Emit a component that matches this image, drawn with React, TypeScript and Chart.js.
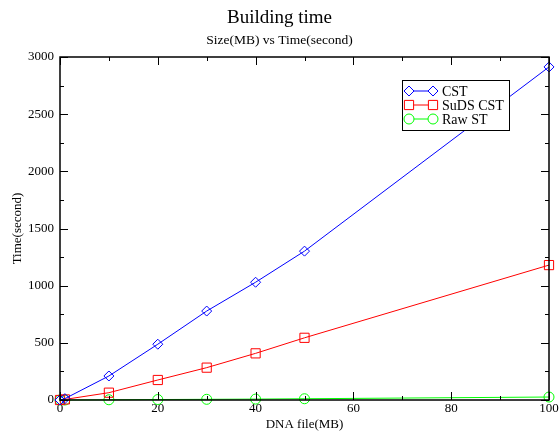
import React, { useEffect, useRef } from "react";
import { Chart, registerables } from "chart.js";

Chart.register(...registerables);

const sizesMB = [0, 1, 10, 20, 30, 40, 50, 100];
const cstTime = [0, 12, 210, 488, 778, 1030, 1302, 2913];
const sudsCstTime = [0, 5, 64, 175, 283, 408, 544, 1180];
const rawStTime = [0, 0, 2, 4, 6, 8, 11, 26];
const seriesNames = ["CST", "SuDS CST", "Raw ST"];
const seriesColors = ["#0000ff", "#ff0000", "#00ff00"];
const seriesMarkers = ["rectRot", "rect", "circle"];
const xTicksMajor = [0, 20, 40, 60, 80, 100];
const yTicksMajor = [0, 500, 1000, 1500, 2000, 2500, 3000];

const FONT = "'Liberation Serif', 'DejaVu Serif', serif";

const framePlugin = {
  id: "frame",
  afterDatasetsDraw(chart: any) {
    const { ctx, chartArea, scales } = chart;
    const { left, right, top, bottom } = chartArea;
    const xs = scales.x;
    const ys = scales.y;
    ctx.save();
    ctx.strokeStyle = "#000";
    ctx.lineWidth = 1.5;
    ctx.strokeRect(left, top, right - left, bottom - top);
    ctx.lineWidth = 1;
    ctx.beginPath();
    for (let v = 0; v <= 100; v += 10) {
      const len = v % 20 === 0 ? 8 : 4;
      const px = Math.round(xs.getPixelForValue(v)) + 0.5;
      ctx.moveTo(px, bottom);
      ctx.lineTo(px, bottom - len);
      ctx.moveTo(px, top);
      ctx.lineTo(px, top + len);
    }
    for (let v = 0; v <= 3000; v += 250) {
      const len = v % 500 === 0 ? 8 : 4;
      const py = Math.round(ys.getPixelForValue(v)) + 0.5;
      ctx.moveTo(left, py);
      ctx.lineTo(left + len, py);
      ctx.moveTo(right, py);
      ctx.lineTo(right - len, py);
    }
    ctx.stroke();

    // legend
    const bx = right - 147;
    const by = top + 23;
    const bw = 107;
    const bh = 50;
    ctx.fillStyle = "#fff";
    ctx.fillRect(bx, by, bw, bh);
    ctx.strokeStyle = "#000";
    ctx.lineWidth = 1;
    ctx.strokeRect(bx + 0.5, by + 0.5, bw, bh);
    ctx.font = "14px " + FONT;
    ctx.textBaseline = "middle";
    ctx.textAlign = "left";
    chart.data.datasets.forEach((ds: any, i: number) => {
      const cy = by + 11 + i * 14;
      const x1 = bx + 7;
      const x2 = bx + 31;
      ctx.strokeStyle = ds.borderColor;
      ctx.lineWidth = 1;
      ctx.beginPath();
      ctx.moveTo(x1, cy);
      ctx.lineTo(x2, cy);
      ctx.stroke();
      const r = ds.pointRadius;
      [x1, x2].forEach((x) => {
        ctx.beginPath();
        if (ds.pointStyle === "rectRot") {
          ctx.moveTo(x - r, cy);
          ctx.lineTo(x, cy - r);
          ctx.lineTo(x + r, cy);
          ctx.lineTo(x, cy + r);
          ctx.closePath();
        } else if (ds.pointStyle === "rect") {
          const s = r * Math.SQRT1_2;
          ctx.rect(x - s, cy - s, 2 * s, 2 * s);
        } else {
          ctx.arc(x, cy, r, 0, Math.PI * 2);
        }
        ctx.fillStyle = "#fff";
        ctx.fill();
        ctx.stroke();
      });
      ctx.fillStyle = "#000";
      ctx.fillText(ds.label, bx + 40, cy + 1);
    });
    ctx.restore();
  },
};

export default function App() {
  const ref = useRef<HTMLCanvasElement>(null);
  useEffect(() => {
    document.body.style.margin = "0";
    const series = [cstTime, sudsCstTime, rawStTime];
    const radii = [5, 6.5, 5];
    const chart = new Chart(ref.current as HTMLCanvasElement, {
      type: "line",
      data: {
        datasets: series.map((vals, i) => ({
          label: seriesNames[i],
          data: sizesMB.map((x, j) => ({ x, y: vals[j] })),
          borderColor: seriesColors[i],
          backgroundColor: "transparent",
          borderWidth: 1,
          pointStyle: seriesMarkers[i] as any,
          pointRadius: radii[i],
          pointBorderWidth: 1,
          pointBackgroundColor: "transparent",
          pointBorderColor: seriesColors[i],
          tension: 0,
          clip: false as any,
        })),
      },
      options: {
        animation: false,
        responsive: false,
        maintainAspectRatio: false,
        layout: { padding: { left: 0, right: 0, top: 0, bottom: 0 } },
        plugins: {
          legend: { display: false },
          tooltip: { enabled: false },
          title: {
            display: true,
            text: "Building time",
            color: "#000",
            font: { family: FONT, size: 19, weight: "normal" },
            padding: { top: 7, bottom: 2 },
          },
          subtitle: {
            display: true,
            text: "Size(MB) vs Time(second)",
            color: "#000",
            font: { family: FONT, size: 13.5, weight: "normal" },
            padding: { top: 1, bottom: 8 },
          },
        },
        scales: {
          x: {
            type: "linear",
            min: 0,
            max: 100,
            afterBuildTicks: (s: any) => {
              s.ticks = xTicksMajor.map((v) => ({ value: v }));
            },
            afterFit: (s: any) => {
              s.height = 32;
              s.paddingRight = 10;
              s.paddingLeft = 0;
            },
            grid: { display: false, drawTicks: false },
            border: { display: false },
            ticks: {
              color: "#000",
              padding: 1,
              maxRotation: 0,
              font: { family: FONT, size: 13 },
              callback: (v: any) => String(v),
            },
            title: {
              display: true,
              text: "DNA file(MB)",
              color: "#000",
              font: { family: FONT, size: 13 },
              padding: { top: 0, bottom: 0 },
            },
          },
          y: {
            type: "linear",
            min: 0,
            max: 3000,
            afterBuildTicks: (s: any) => {
              s.ticks = yTicksMajor.map((v) => ({ value: v }));
            },
            afterFit: (s: any) => {
              s.width = 60;
            },
            grid: { display: false, drawTicks: false },
            border: { display: false },
            ticks: {
              color: "#000",
              padding: 6,
              font: { family: FONT, size: 13 },
              callback: (v: any) => String(v),
            },
            title: {
              display: true,
              text: "Time(second)",
              color: "#000",
              font: { family: FONT, size: 13 },
              padding: { top: 10, bottom: 0 },
            },
          },
        },
      },
      plugins: [framePlugin],
    });
    return () => chart.destroy();
  }, []);
  return (
    <div style={{ width: 559, height: 432, position: "relative" }}>
      <canvas ref={ref} width={559} height={432} style={{ width: 559, height: 432 }} />
    </div>
  );
}
